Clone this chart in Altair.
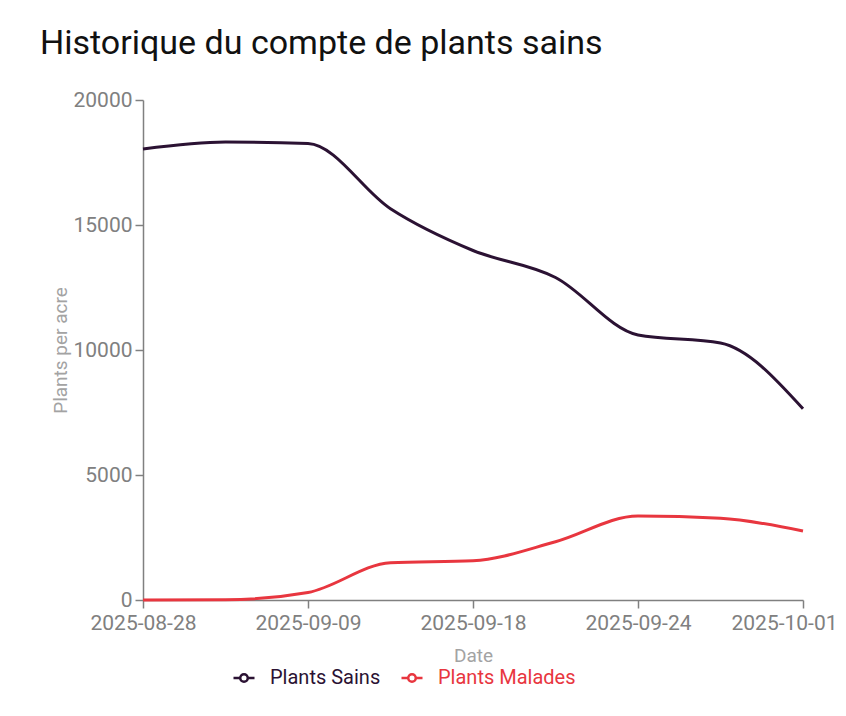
import altair as alt
import pandas as pd

dates = ["2025-08-28", "2025-09-03", "2025-09-09", "2025-09-13", "2025-09-18",
         "2025-09-21", "2025-09-24", "2025-09-28", "2025-10-01"]
tick_dates = ["2025-08-28", "2025-09-09", "2025-09-18", "2025-09-24", "2025-10-01"]
sains = [18040, 18320, 18260, 15650, 13980, 12900, 10600, 10280, 7650]
malades = [0, 10, 300, 1490, 1570, 2330, 3360, 3270, 2760]
series = ["Plants Sains", "Plants Malades"]
colors = ["#2b1233", "#e8363f"]

rows = []
for d, s, m in zip(dates, sains, malades):
    rows.append({"Date": d, "Series": series[0], "Value": s})
    rows.append({"Date": d, "Series": series[1], "Value": m})
df = pd.DataFrame(rows)

font = "Roboto"
gray = "#808080"
title_gray = "#a3a3a3"

legend_symbol = "M-1,0H-0.36M0.36,0H1M-0.36,0A0.36,0.36 0 1,1 0.36,0A0.36,0.36 0 1,1 -0.36,0Z"
last_label_test = "datum.value == '%s'" % tick_dates[-1]

x_enc = alt.X("Date:O", sort=dates,
              scale=alt.Scale(type="point", padding=0),
              axis=alt.Axis(values=tick_dates, labelAngle=0, title="Date",
                            labelFont=font, labelFontSize=21, labelColor=gray,
                            labelOffset={"condition": {"test": last_label_test, "value": -19}, "value": 0},
                            titleFont=font, titleFontSize=19, titleColor=title_gray,
                            titleFontWeight="normal", titlePadding=13,
                            domainColor=gray, tickColor=gray, tickSize=8,
                            domainWidth=1.5, tickWidth=1.5, labelPadding=4,
                            grid=False))
y_enc = alt.Y("Value:Q", scale=alt.Scale(domain=[0, 20000]),
              axis=alt.Axis(values=[0, 5000, 10000, 15000, 20000], format="d",
                            title="Plants per acre",
                            labelFont=font, labelFontSize=21, labelColor=gray,
                            titleFont=font, titleFontSize=19, titleColor=title_gray,
                            titleFontWeight="normal", titlePadding=2,
                            domainColor=gray, tickColor=gray, tickSize=8,
                            domainWidth=1.5, tickWidth=1.5, labelPadding=3,
                            grid=False))

legend_x = [89, 257]
layers = []
for i, name in enumerate(series):
    layers.append(
        alt.Chart(df).transform_filter(alt.datum.Series == name)
        .mark_line(interpolate="monotone", strokeWidth=3)
        .encode(
            x=x_enc, y=y_enc,
            color=alt.Color("Series:N",
                            scale=alt.Scale(domain=[name], range=[colors[i]]),
                            legend=alt.Legend(orient="none", direction="horizontal",
                                              legendX=legend_x[i], legendY=566, title=None,
                                              symbolType=legend_symbol, symbolSize=441,
                                              symbolStrokeWidth=2.5, symbolFillColor="white",
                                              labelFont=font, labelFontSize=20,
                                              labelOffset=14,
                                              labelColor=colors[i])),
        )
    )

chart = alt.layer(*layers).resolve_scale(color="independent").properties(
    width=660,
    height=500,
    title=alt.TitleParams("Historique du compte de plants sains", anchor="start",
                          frame="group",
                          font=font, fontSize=34, fontWeight="normal",
                          color="#111111", dx=-103, offset=28),
    padding={"left": 135, "top": 92, "right": 33, "bottom": 100},
    autosize=alt.AutoSizeParams(type="none"),
).configure_view(stroke=None)

chart.save("out.html", embed_options={"renderer": "svg", "actions": False})
